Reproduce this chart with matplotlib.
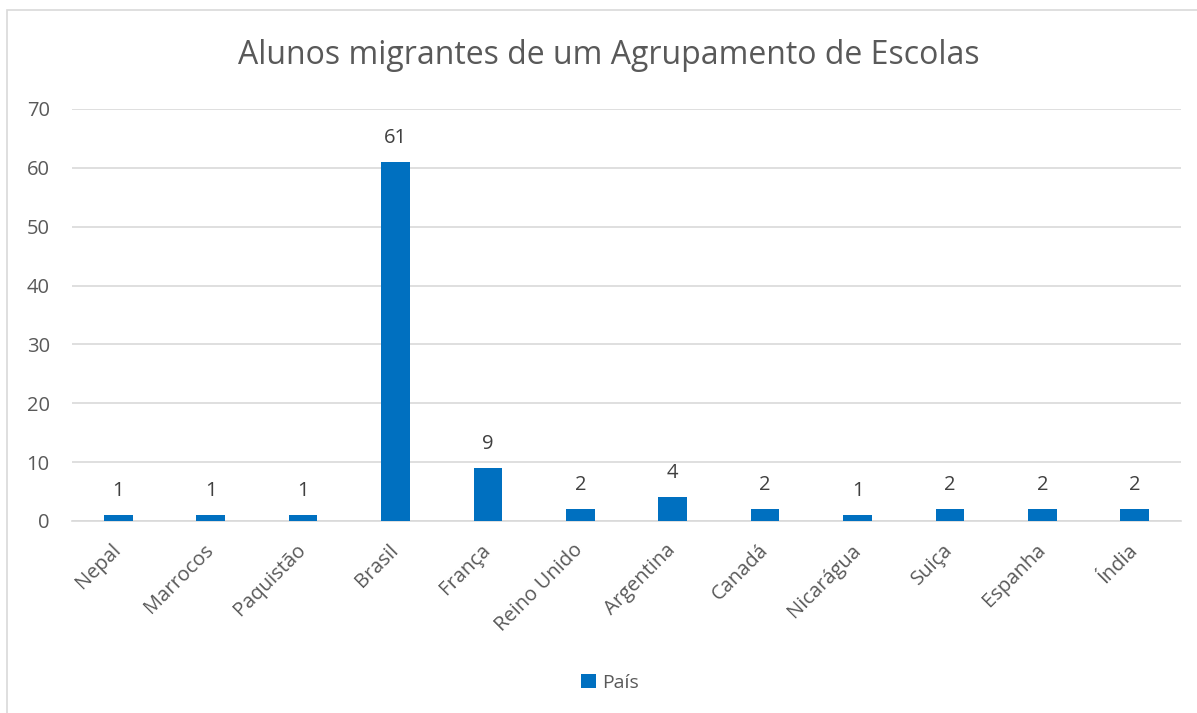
import matplotlib.pyplot as plt
import numpy as np

plt.rcParams['font.family'] = ['Open Sans', 'DejaVu Sans']

paises = ['Nepal', 'Marrocos', 'Paquistão', 'Brasil', 'França', 'Reino Unido',
          'Argentina', 'Canadá', 'Nicarágua', 'Suiça', 'Espanha', 'Índia']
alunos = [1, 1, 1, 61, 9, 2, 4, 2, 1, 2, 2, 2]
y_ticks = [0, 10, 20, 30, 40, 50, 60, 70]

cor_barra = '#0070C0'
cor_texto = '#595959'
cor_grelha = '#D9D9D9'

fig = plt.figure(figsize=(11.97, 7.13), dpi=100)
ax = fig.add_axes([72 / 1197, 1 - 521 / 713, (1181 - 72) / 1197, (521 - 109) / 713])

# moldura do gráfico
fig.patches.append(plt.Rectangle((7 / 1197, -0.01), 1.02, 1 - 10 / 713 + 0.01,
                                 transform=fig.transFigure, fill=False,
                                 edgecolor=cor_grelha, linewidth=1.2))

x = np.arange(len(paises))
barras = ax.bar(x, alunos, width=0.31, color=cor_barra, zorder=3, label='País')

for b, v in zip(barras, alunos):
    ax.text(b.get_x() + b.get_width() / 2, v + 2.4, str(v), ha='center', va='bottom',
            fontsize=14.5, color='#404040')

ax.set_xlim(-0.5, len(paises) - 0.5)
ax.set_ylim(0, 70)
ax.set_yticks(y_ticks)
ax.yaxis.grid(True, color=cor_grelha, linewidth=1.2, zorder=0)
ax.tick_params(axis='y', length=0, pad=16, labelsize=14.5, labelcolor=cor_texto)
ax.tick_params(axis='x', length=0, pad=19, labelsize=14.5, labelcolor=cor_texto)
ax.set_xticks(x)
ax.set_xticklabels(paises, rotation=45, ha='right', va='center', rotation_mode='anchor')
for s in ['top', 'right', 'left']:
    ax.spines[s].set_visible(False)
ax.spines['bottom'].set_color(cor_grelha)
ax.spines['bottom'].set_linewidth(1.2)

fig.text(609 / 1197, 1 - 56 / 713, 'Alunos migrantes de um Agrupamento de Escolas',
         ha='center', va='center', fontsize=23, color=cor_texto)

fig.legend(loc='center', bbox_to_anchor=(610 / 1197, 1 - 683 / 713), frameon=False,
           fontsize=14, labelcolor=cor_texto, handlelength=0.75, handleheight=0.75,
           handletextpad=0.3)

fig.savefig('out.png', dpi=100)
